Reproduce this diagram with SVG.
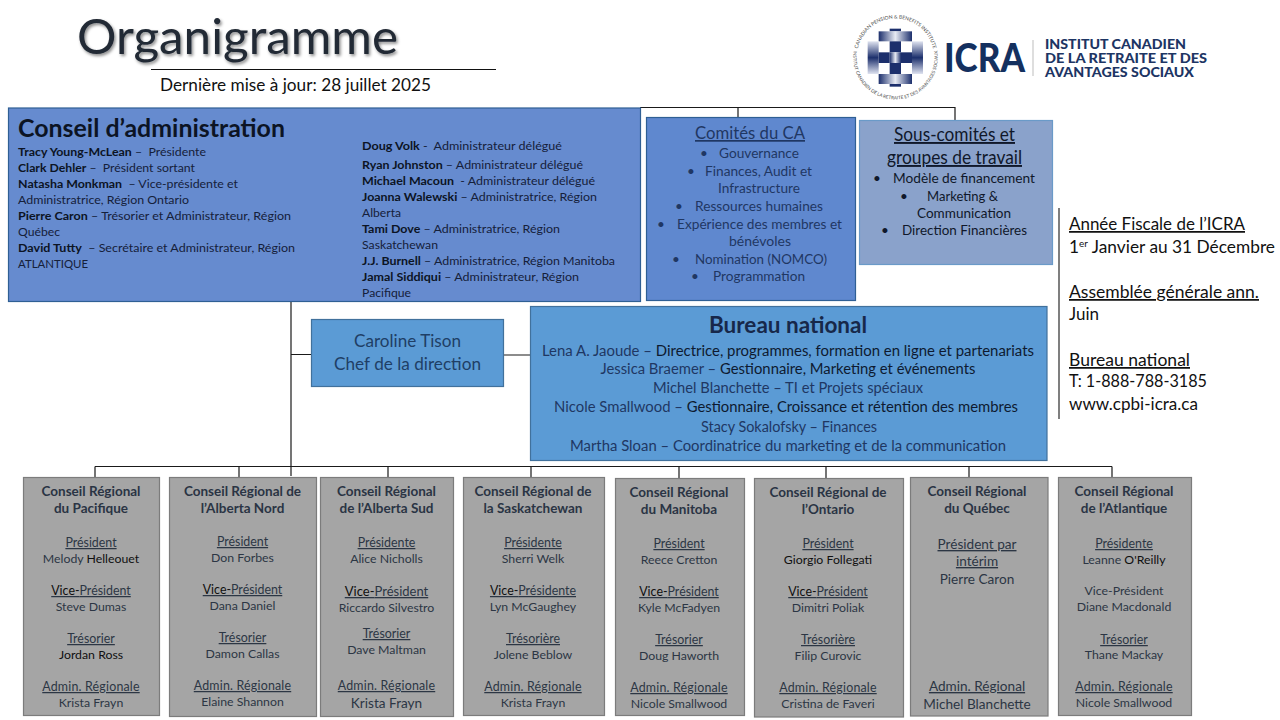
<svg xmlns="http://www.w3.org/2000/svg" width="1280" height="720" viewBox="0 0 1280 720">
<defs>
<style>
text{font-family:"Lato","Liberation Sans",sans-serif;}
.box{stroke-width:1.2;}
.reg{fill:#a5a5a5;stroke:#7c7c7c;stroke-width:1.2;}
.conn{fill:none;stroke:#1a1a1a;stroke-width:1.2;}
.bd{font-size:12.2px;fill:#15203a;}
.bd tspan.b{font-weight:700;fill:#0c1424;}
.cm{font-size:13.5px;fill:#1f3763;text-anchor:middle;}
.sc{font-size:13.5px;fill:#10182a;text-anchor:middle;}
.bu{font-size:14.5px;fill:#1f3763;text-anchor:middle;}
.bu tspan.k{fill:#0e1a30;}
.rt{font-size:13.5px;font-weight:700;fill:#2a3444;text-anchor:middle;}
.rl{font-size:12.4px;fill:#2c3644;text-anchor:middle;text-decoration:underline;}
.rn{font-size:12.3px;fill:#2c3644;text-anchor:middle;}
.ad{letter-spacing:0.2px;}
.big{font-size:13.6px;}
.mid{font-size:13px;}
.k{fill:#101010;}
.side{font-size:17.5px;fill:#111;}
.u{text-decoration:underline;}
</style>
<filter id="shadow" x="-5%" y="-10%" width="110%" height="130%"><feDropShadow dx="1.5" dy="2" stdDeviation="1.5" flood-color="#000" flood-opacity="0.45"/></filter>
<linearGradient id="gh" x1="0" y1="0" x2="1" y2="0"><stop offset="0" stop-color="#1c2f6c"/><stop offset="0.5" stop-color="#e8ebf4"/><stop offset="1" stop-color="#1c2f6c"/></linearGradient>
<linearGradient id="gv" x1="0" y1="0" x2="0" y2="1"><stop offset="0" stop-color="#dfe3f0"/><stop offset="0.5" stop-color="#1c2f6c"/><stop offset="1" stop-color="#dfe3f0"/></linearGradient>
<path id="ringTop" d="M857,57 A38.5,38.5 0 0 1 934,57"/>
<path id="ringBot" d="M853.8,50 A42.3,42.3 0 1 0 937.2,50"/>
</defs>
<rect width="1280" height="720" fill="#fff"/>

<g id="connectors">
<path class="conn" d="M640,107.5H955V120M738,107.5V117"/>
<path class="conn" d="M291,301V476"/>
<path class="conn" d="M291,354.500H311M503,355H531"/>
<path class="conn" d="M95,466.500H1112M95,466.500V477M239,466.500V477M388,466.500V477M531,466.500V477M679,466.500V478M826,466.500V478M969,466.500V477M1112,466.500V477"/>
</g>

<g id="title">
<text x="77" y="54" font-size="48" fill="#222a35" filter="url(#shadow)" textLength="321" lengthAdjust="spacingAndGlyphs">Organigramme</text>
<line x1="151" y1="69.500" x2="496" y2="69.500" stroke="#111" stroke-width="1.2"/>
<text x="160" y="91" font-size="17" fill="#111" textLength="271" lengthAdjust="spacingAndGlyphs">Dernière mise à jour: 28 juillet 2025</text>
</g>

<g id="logo">
<g transform="translate(862,24) scale(0.3333)">
<rect x="83" y="14" width="34" height="8" fill="#1c2f6c"/>
<rect x="50" y="22" width="100" height="30" fill="url(#gh)"/>
<rect x="50" y="150" width="100" height="30" fill="url(#gh)"/>
<rect x="83" y="180" width="34" height="8" fill="#1c2f6c"/>
<rect x="17" y="52" width="33" height="98" fill="url(#gv)"/>
<rect x="150" y="52" width="33" height="98" fill="url(#gv)"/>
<rect x="83" y="52" width="34" height="33" fill="#1c2f6c"/>
<rect x="83" y="117" width="34" height="33" fill="#1c2f6c"/>
<rect x="50" y="85" width="33" height="32" fill="#1c2f6c"/>
<rect x="117" y="85" width="33" height="32" fill="#1c2f6c"/>
<rect x="83" y="85" width="34" height="32" fill="url(#gh)"/>
</g>
<text font-size="5" fill="#4a4a4a"><textPath href="#ringTop" startOffset="50%" text-anchor="middle">CANADIAN PENSION &amp; BENEFITS INSTITUTE</textPath></text>
<text font-size="4.600" fill="#4a4a4a"><textPath href="#ringBot" startOffset="50%" text-anchor="middle">INSTITUT CANADIEN DE LA RETRAITE ET DES AVANTAGES SOCIAUX</textPath></text>
<text x="944" y="72" font-size="39" font-weight="900" fill="#14305f" textLength="81" lengthAdjust="spacingAndGlyphs">ICRA</text>
<line x1="1033" y1="40" x2="1033" y2="76" stroke="#bdbdbd" stroke-width="1"/>
<g font-size="13" font-weight="900" fill="#1d3564">
<text x="1045" y="49" textLength="141" lengthAdjust="spacingAndGlyphs">INSTITUT CANADIEN</text>
<text x="1045" y="63" textLength="162" lengthAdjust="spacingAndGlyphs">DE LA RETRAITE ET DES</text>
<text x="1045" y="77" textLength="149" lengthAdjust="spacingAndGlyphs">AVANTAGES SOCIAUX</text>
</g>
</g>

<g id="conseil">
<rect class="box" x="8.500" y="108" width="632" height="193.500" fill="#668bcf" stroke="#2f5f94"/>
<text x="18" y="137" font-size="25" font-weight="700" fill="#0c1424" textLength="267" lengthAdjust="spacingAndGlyphs">Conseil d’administration</text>
<g class="bd">
<text class="bd" x="18" y="156" textLength="188" lengthAdjust="spacingAndGlyphs"><tspan class="b">Tracy Young-McLean</tspan> –&#160; Présidente</text>
<text class="bd" x="18" y="172" textLength="177" lengthAdjust="spacingAndGlyphs"><tspan class="b">Clark Dehler</tspan> –&#160; Président sortant</text>
<text class="bd" x="18" y="188" textLength="220" lengthAdjust="spacingAndGlyphs"><tspan class="b">Natasha Monkman</tspan>&#160; – Vice-présidente et</text>
<text class="bd" x="18" y="204" textLength="171" lengthAdjust="spacingAndGlyphs">Administratrice, Région Ontario</text>
<text class="bd" x="18" y="220" textLength="273" lengthAdjust="spacingAndGlyphs"><tspan class="b">Pierre Caron</tspan> – Trésorier et Administrateur, Région</text>
<text class="bd" x="18" y="236" textLength="42" lengthAdjust="spacingAndGlyphs">Québec</text>
<text class="bd" x="18" y="252" textLength="277" lengthAdjust="spacingAndGlyphs"><tspan class="b">David Tutty</tspan>&#160; – Secrétaire et Administrateur, Région</text>
<text class="bd" x="18" y="268" textLength="70" lengthAdjust="spacingAndGlyphs">ATLANTIQUE</text>
<text class="bd" x="362" y="150" textLength="200" lengthAdjust="spacingAndGlyphs"><tspan class="b">Doug Volk</tspan> -&#160; Administrateur délégué</text>
<text class="bd" x="362" y="169" textLength="221" lengthAdjust="spacingAndGlyphs"><tspan class="b">Ryan Johnston</tspan> – Administrateur délégué</text>
<text class="bd" x="362" y="185" textLength="233" lengthAdjust="spacingAndGlyphs"><tspan class="b">Michael Macoun</tspan>&#160; - Administrateur délégué</text>
<text class="bd" x="362" y="201" textLength="235" lengthAdjust="spacingAndGlyphs"><tspan class="b">Joanna Walewski</tspan> – Administratrice, Région</text>
<text class="bd" x="362" y="217" textLength="39" lengthAdjust="spacingAndGlyphs">Alberta</text>
<text class="bd" x="362" y="233" textLength="198" lengthAdjust="spacingAndGlyphs"><tspan class="b">Tami Dove</tspan> – Administratrice, Région</text>
<text class="bd" x="362" y="249" textLength="76" lengthAdjust="spacingAndGlyphs">Saskatchewan</text>
<text class="bd" x="362" y="265" textLength="253" lengthAdjust="spacingAndGlyphs"><tspan class="b">J.J. Burnell</tspan> – Administratrice, Région Manitoba</text>
<text class="bd" x="362" y="281" textLength="217" lengthAdjust="spacingAndGlyphs"><tspan class="b">Jamal Siddiqui</tspan> – Administrateur, Région</text>
<text class="bd" x="362" y="297" textLength="49" lengthAdjust="spacingAndGlyphs">Pacifique</text>
</g>
</g>

<g id="comites">
<rect class="box" x="646.500" y="117.500" width="209" height="183" fill="#5f88cf" stroke="#2f5f94"/>
<text x="750" y="139" font-size="17" fill="#1f3763" text-anchor="middle" class="u" textLength="110" lengthAdjust="spacingAndGlyphs">Comités du CA</text>
<text class="cm" x="759" y="158" textLength="80" lengthAdjust="spacingAndGlyphs">Gouvernance</text>
<text class="cm" x="758.500" y="176" textLength="107" lengthAdjust="spacingAndGlyphs">Finances, Audit et</text>
<text class="cm" x="759" y="193" textLength="82" lengthAdjust="spacingAndGlyphs">Infrastructure</text>
<text class="cm" x="759" y="211" textLength="128" lengthAdjust="spacingAndGlyphs">Ressources humaines</text>
<text class="cm" x="759.500" y="229" textLength="165" lengthAdjust="spacingAndGlyphs">Expérience des membres et</text>
<text class="cm" x="760" y="246" textLength="62" lengthAdjust="spacingAndGlyphs">bénévoles</text>
<text class="cm" x="761" y="264" textLength="132" lengthAdjust="spacingAndGlyphs">Nomination (NOMCO)</text>
<text class="cm" x="759" y="281" textLength="92" lengthAdjust="spacingAndGlyphs">Programmation</text>
<text class="cm" x="704" y="158">•</text>
<text class="cm" x="691" y="176">•</text>
<text class="cm" x="679" y="211">•</text>
<text class="cm" x="661" y="229">•</text>
<text class="cm" x="676" y="264">•</text>
<text class="cm" x="695" y="281">•</text>
</g>

<g id="souscomites">
<rect class="box" x="859.500" y="120.500" width="193" height="144" fill="#8aa2cb" stroke="#6a9ac8"/>
<text class="u" x="954.500" y="141" font-size="19" fill="#10182a" text-anchor="middle" textLength="121" lengthAdjust="spacingAndGlyphs">Sous-comités et</text>
<text class="u" x="954.500" y="164" font-size="19" fill="#10182a" text-anchor="middle" textLength="135" lengthAdjust="spacingAndGlyphs">groupes de travail</text>
<text class="sc" x="964" y="183" textLength="142" lengthAdjust="spacingAndGlyphs">Modèle de financement</text>
<text class="sc" x="962.500" y="201" textLength="71" lengthAdjust="spacingAndGlyphs">Marketing &amp;</text>
<text class="sc" x="964" y="218" textLength="94" lengthAdjust="spacingAndGlyphs">Communication</text>
<text class="sc" x="964.500" y="235" textLength="125" lengthAdjust="spacingAndGlyphs">Direction Financières</text>
<text class="sc" x="877" y="183">•</text>
<text class="sc" x="904" y="201">•</text>
<text class="sc" x="885" y="235">•</text>
</g>

<g id="caroline">
<rect class="box" x="311.500" y="319.500" width="192" height="67" fill="#5b9bd5" stroke="#41719c"/>
<text x="407.500" y="347" font-size="17.500" fill="#1f3f66" text-anchor="middle" textLength="107" lengthAdjust="spacingAndGlyphs">Caroline Tison</text>
<text x="407.500" y="370" font-size="17.500" fill="#1f3f66" text-anchor="middle" textLength="147" lengthAdjust="spacingAndGlyphs">Chef de la direction</text>
</g>

<g id="bureau">
<rect class="box" x="530.500" y="306.500" width="516.500" height="154" fill="#5b9bd5" stroke="#41719c"/>
<text x="788" y="333" font-size="23" font-weight="700" fill="#17284a" text-anchor="middle" textLength="158" lengthAdjust="spacingAndGlyphs">Bureau national</text>
<text class="bu" x="788" y="356" textLength="492" lengthAdjust="spacingAndGlyphs">Lena A. Jaoude – <tspan class="k">Directrice, programmes, formation en ligne et partenariats</tspan></text>
<text class="bu" x="788" y="374" textLength="375" lengthAdjust="spacingAndGlyphs">Jessica Braemer – <tspan class="k">Gestionnaire, Marketing et événements</tspan></text>
<text class="bu" x="788" y="393" textLength="270" lengthAdjust="spacingAndGlyphs">Michel Blanchette – TI et Projets spéciaux</text>
<text class="bu" x="786" y="412" textLength="464" lengthAdjust="spacingAndGlyphs">Nicole Smallwood – <tspan class="k">Gestionnaire, Croissance et rétention des membres</tspan></text>
<text class="bu" x="789" y="432" textLength="176" lengthAdjust="spacingAndGlyphs">Stacy Sokalofsky – Finances</text>
<text class="bu" x="788" y="451" textLength="436" lengthAdjust="spacingAndGlyphs">Martha Sloan – Coordinatrice du marketing et de la communication</text>
</g>

<g id="infos">
<line x1="1059" y1="208" x2="1059" y2="419" stroke="#555" stroke-width="1.500"/>
<text class="side u" x="1069" y="230" textLength="176" lengthAdjust="spacingAndGlyphs">Année Fiscale de l’ICRA</text>
<text class="side" x="1069" y="253" textLength="206" lengthAdjust="spacingAndGlyphs">1<tspan font-size="10" dy="-6">er</tspan><tspan dy="6"> Janvier au 31 Décembre</tspan></text>
<text class="side u" x="1069" y="298" textLength="190" lengthAdjust="spacingAndGlyphs">Assemblée générale ann.</text>
<text class="side" x="1069" y="320" textLength="30" lengthAdjust="spacingAndGlyphs">Juin</text>
<text class="side u" x="1069" y="366" textLength="121" lengthAdjust="spacingAndGlyphs">Bureau national</text>
<text class="side" x="1069" y="387" textLength="138" lengthAdjust="spacingAndGlyphs">T: 1-888-788-3185</text>
<text class="side" x="1069" y="410" textLength="129" lengthAdjust="spacingAndGlyphs">www.cpbi-icra.ca</text>
</g>

<g id="region-pacifique">
<rect class="reg" x="23.500" y="477.500" width="136" height="238"/>
<text class="rt" x="91" y="496">Conseil Régional</text><text class="rt" x="91" y="513">du Pacifique</text>
<text class="rl" x="91" y="547">Président</text><text class="rn" x="91" y="563">Melody <tspan class="k">Helleouet</tspan></text>
<text class="rl" x="91" y="595"><tspan class="k">Vice-</tspan>Président</text><text class="rn" x="91" y="611">Steve Dumas</text>
<text class="rl" x="91" y="643">Trésorier</text><text class="rn k" x="91" y="659">Jordan Ross</text>
<text class="rl ad" x="91" y="691">Admin. Régionale</text><text class="rn" x="91" y="707">Krista Frayn</text>
</g>
<g id="region-alberta-nord">
<rect class="reg" x="169.500" y="477.500" width="147" height="239"/>
<text class="rt" x="242.500" y="496">Conseil Régional de</text><text class="rt" x="242.500" y="513">l’Alberta Nord</text>
<text class="rl" x="242.500" y="546">Président</text><text class="rn" x="242.500" y="562">Don Forbes</text>
<text class="rl" x="242.500" y="594"><tspan class="k">Vice-</tspan>Président</text><text class="rn" x="242.500" y="610">Dana Daniel</text>
<text class="rl" x="242.500" y="642">Trésorier</text><text class="rn" x="242.500" y="658">Damon Callas</text>
<text class="rl ad" x="242.500" y="690">Admin. Régionale</text><text class="rn" x="242.500" y="706">Elaine Shannon</text>
</g>
<g id="region-alberta-sud">
<rect class="reg" x="320.500" y="477.500" width="133" height="239"/>
<text class="rt" x="386.500" y="496">Conseil Régional</text><text class="rt" x="386.500" y="513">de l’Alberta Sud</text>
<text class="rl" x="386.500" y="547">Présidente</text><text class="rn" x="386.500" y="563">Alice Nicholls</text>
<text class="rl mid" x="386.500" y="596"><tspan class="k">Vice-</tspan>Président</text><text class="rn" x="386.500" y="612">Riccardo Silvestro</text>
<text class="rl" x="386.500" y="638">Trésorier</text><text class="rn" x="386.500" y="654">Dave Maltman</text>
<text class="rl ad" x="386.500" y="690">Admin. Régionale</text><text class="rn big" x="386.500" y="708">Krista Frayn</text>
</g>
<g id="region-saskatchewan">
<rect class="reg" x="463.500" y="477.500" width="141" height="238"/>
<text class="rt" x="533" y="496">Conseil Régional de</text><text class="rt" x="533" y="513">la Saskatchewan</text>
<text class="rl" x="533" y="547">Présidente</text><text class="rn" x="533" y="563">Sherri Welk</text>
<text class="rl" x="533" y="595"><tspan class="k">Vice-</tspan>Présidente</text><text class="rn" x="533" y="611">Lyn McGaughey</text>
<text class="rl" x="533" y="643">Trésorière</text><text class="rn" x="533" y="659">Jolene Beblow</text>
<text class="rl ad" x="533" y="691">Admin. Régionale</text><text class="rn" x="533" y="707">Krista Frayn</text>
</g>
<g id="region-manitoba">
<rect class="reg" x="615.500" y="478.500" width="129" height="237"/>
<text class="rt" x="679" y="497">Conseil Régional</text><text class="rt" x="679" y="514">du Manitoba</text>
<text class="rl" x="679" y="548">Président</text><text class="rn" x="679" y="564">Reece Cretton</text>
<text class="rl" x="679" y="596"><tspan class="k">Vice-</tspan>Président</text><text class="rn" x="679" y="612">Kyle McFadyen</text>
<text class="rl" x="679" y="644">Trésorier</text><text class="rn" x="679" y="660">Doug Haworth</text>
<text class="rl ad" x="679" y="692">Admin. Régionale</text><text class="rn" x="679" y="708">Nicole Smallwood</text>
</g>
<g id="region-ontario">
<rect class="reg" x="754.500" y="478.500" width="149" height="238.500"/>
<text class="rt" x="828" y="497">Conseil Régional de</text><text class="rt" x="828" y="514">l’Ontario</text>
<text class="rl" x="828" y="548">Président</text><text class="rn k" x="828" y="564">Giorgio Follegati</text>
<text class="rl" x="828" y="596"><tspan class="k">Vice-</tspan>Président</text><text class="rn" x="828" y="612">Dimitri Poliak</text>
<text class="rl" x="828" y="644">Trésorière</text><text class="rn" x="828" y="660">Filip Curovic</text>
<text class="rl ad" x="828" y="692">Admin. Régionale</text><text class="rn" x="828" y="708">Cristina de Faveri</text>
</g>
<g id="region-quebec">
<rect class="reg" x="910.500" y="477.500" width="137.500" height="238.500"/>
<text class="rt" x="977" y="496">Conseil Régional</text><text class="rt" x="977" y="513">du Québec</text>
<text class="rl big" x="977" y="549">Président par</text><text class="rl big" x="977" y="566">intérim</text><text class="rn big" x="977" y="584">Pierre Caron</text>
<text class="rl big" x="977" y="691">Admin. Régional</text><text class="rn big" x="977" y="709">Michel Blanchette</text>
</g>
<g id="region-atlantique">
<rect class="reg" x="1058.500" y="477.500" width="133" height="238"/>
<text class="rt" x="1124" y="496">Conseil Régional</text><text class="rt" x="1124" y="513">de l’Atlantique</text>
<text class="rl" x="1124" y="548">Présidente</text><text class="rn" x="1124" y="564">Leanne <tspan class="k">O'Reilly</tspan></text>
<text class="rn" x="1124" y="595">Vice-Président</text><text class="rn" x="1124" y="611">Diane Macdonald</text>
<text class="rl" x="1124" y="644">Trésorier</text><text class="rn" x="1124" y="659">Thane Mackay</text>
<text class="rl ad" x="1124" y="691">Admin. Régionale</text><text class="rn" x="1124" y="707">Nicole Smallwood</text>
</g>
</svg>
